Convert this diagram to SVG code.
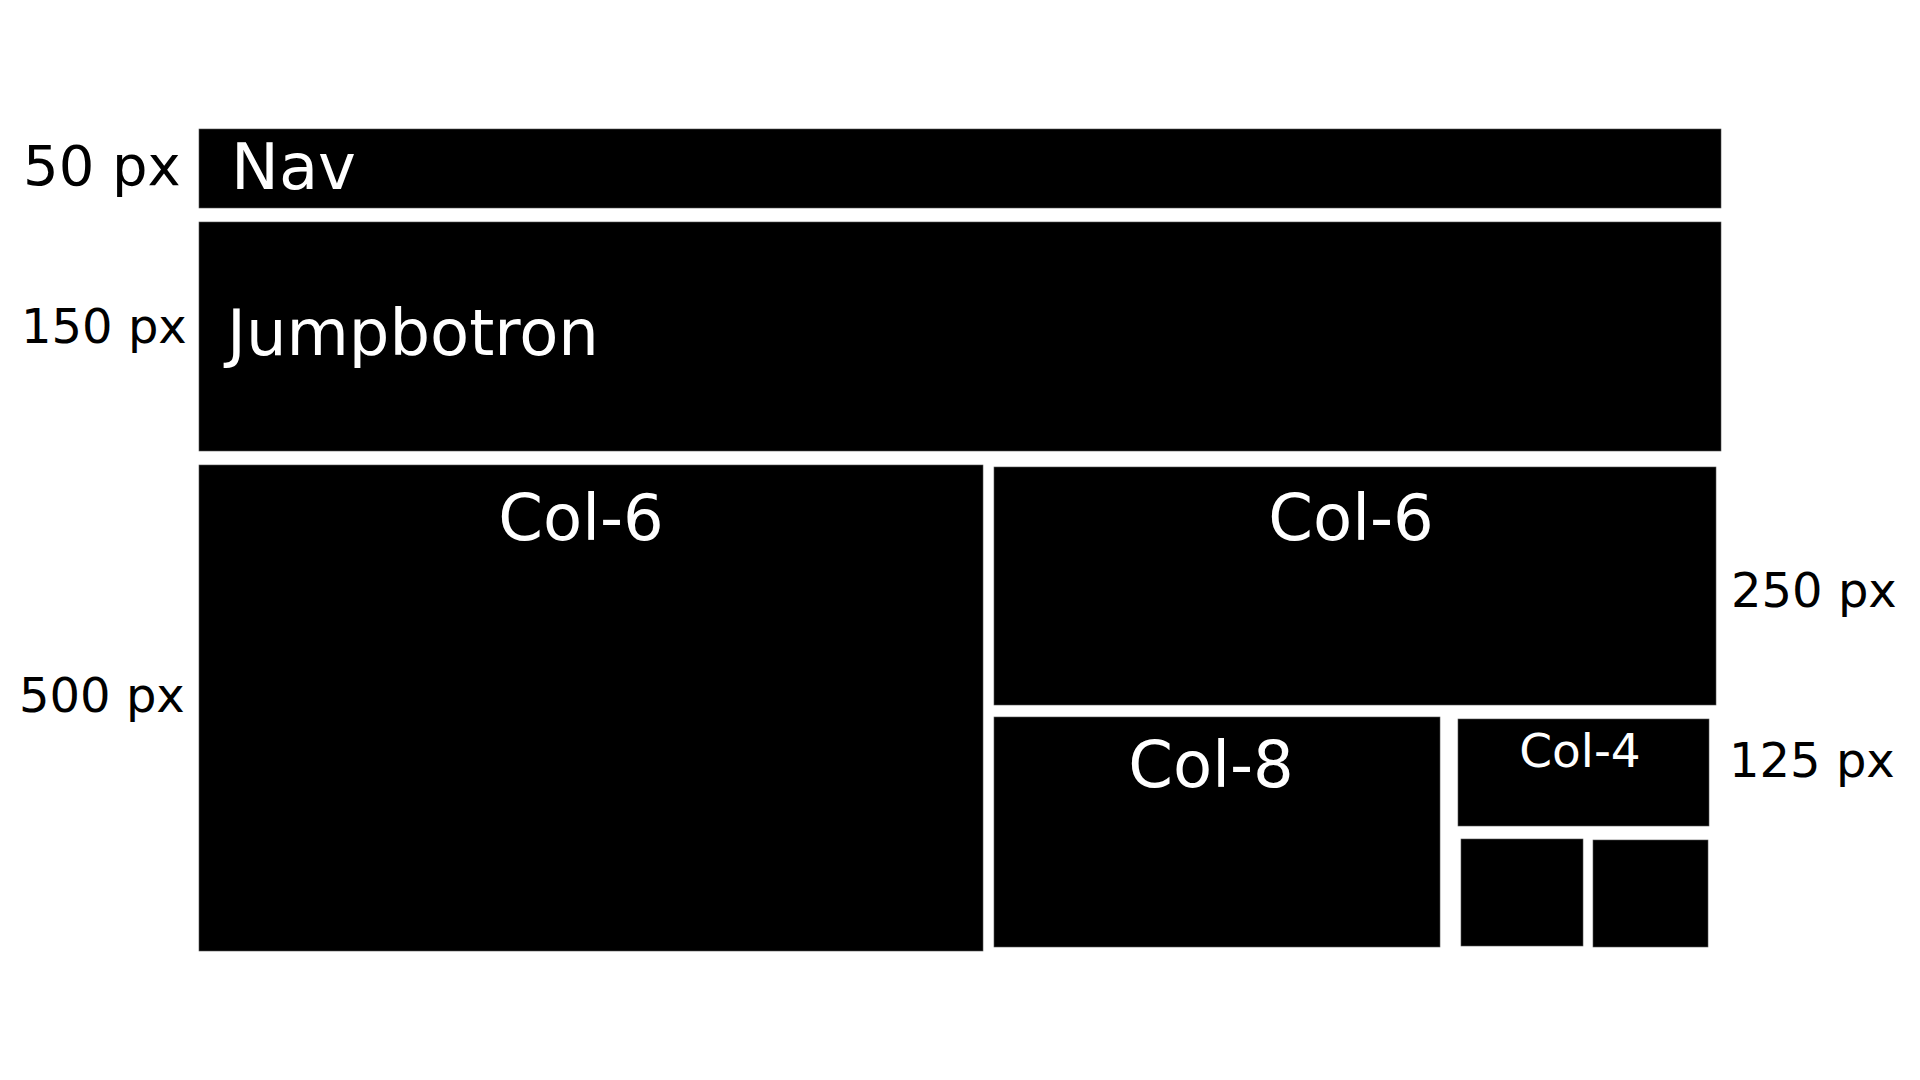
<svg xmlns="http://www.w3.org/2000/svg" width="1920" height="1080" viewBox="0 0 1920 1080">
<style>
.box{fill:#000;stroke:#555;stroke-width:0.6}
.in{fill:#fff;font-family:"DejaVu Sans",sans-serif}
.dim{fill:#000;font-family:"DejaVu Sans",sans-serif;font-size:48px}
</style>
<rect width="1920" height="1080" fill="#fff"/>
<g id="nav"><rect class="box" x="199" y="129" width="1522" height="79"/><text class="in" x="231" y="189" font-size="64">Nav</text></g>
<g id="jumbotron"><rect class="box" x="199" y="222" width="1522" height="229"/><text class="in" x="227" y="355" font-size="64">Jumpbotron</text></g>
<g id="col6-left"><rect class="box" x="199" y="465" width="784" height="486"/><text class="in" x="581" y="540" font-size="64" text-anchor="middle">Col-6</text></g>
<g id="col6-right"><rect class="box" x="994" y="467" width="722" height="238"/><text class="in" x="1351" y="540" font-size="64" text-anchor="middle">Col-6</text></g>
<g id="col8"><rect class="box" x="994" y="717" width="446" height="230"/><text class="in" x="1211" y="787" font-size="64" text-anchor="middle">Col-8</text></g>
<g id="col4"><rect class="box" x="1458" y="719" width="251" height="107"/><text class="in" x="1580" y="767" font-size="47" text-anchor="middle">Col-4</text></g>
<g id="small1"><rect class="box" x="1461" y="839" width="122" height="107"/></g>
<g id="small2"><rect class="box" x="1593" y="840" width="115" height="107"/></g>
<g id="labels">
<text class="dim" x="23" y="185" style="font-size:56px">50 px</text>
<text class="dim" x="21" y="343">150 px</text>
<text class="dim" x="19" y="712">500 px</text>
<text class="dim" x="1731" y="607">250 px</text>
<text class="dim" x="1729" y="777">125 px</text>
</g>
<g id="connectors"></g>
</svg>
